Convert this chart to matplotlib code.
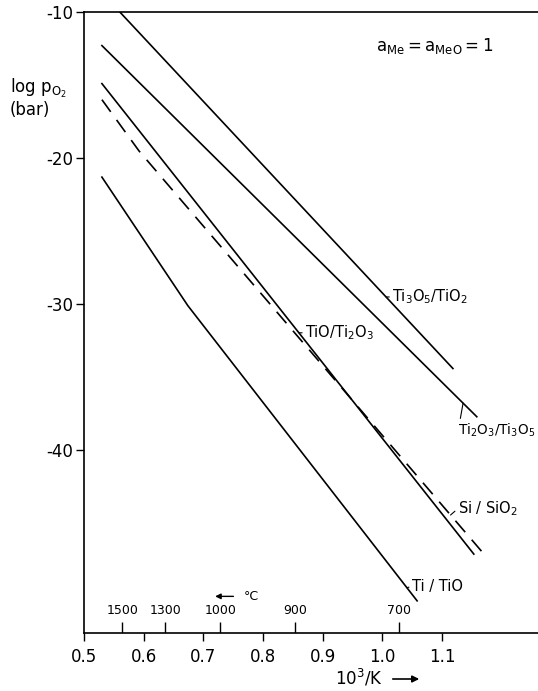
import numpy as np
import matplotlib
matplotlib.use('Agg')
import matplotlib.pyplot as plt

plt.rcParams['font.family'] = 'DejaVu Sans'
plt.rcParams['mathtext.fontset'] = 'dejavusans'
plt.rcParams['axes.unicode_minus'] = False

# data: x = 10^3/K, y = log pO2 (bar)
ti3o5_x = [0.560, 1.118]
ti3o5_y = [-10.0, -34.4]
ti2o3_x = [0.530, 1.158]
ti2o3_y = [-12.3, -37.7]
tio_x = [0.530, 1.153]
tio_y = [-14.9, -47.1]
si_x = [0.530, 0.592, 1.170]
si_y = [-16.0, -19.5, -47.1]
ti_x = [0.530, 0.674, 1.058]
ti_y = [-21.3, -30.1, -50.3]

x_ticks = [0.5, 0.6, 0.7, 0.8, 0.9, 1.0, 1.1]
x_labels = ['0.5', '0.6', '0.7', '0.8', '0.9', '1.0', '1.1']
y_ticks = [-10, -20, -30, -40]
celsius_labels = ['1500', '1300', '1000', '900', '700']
celsius_pos = [0.564, 0.636, 0.728, 0.853, 1.028]

fig = plt.figure(figsize=(5.38, 6.91), dpi=100)
ax = fig.add_axes([84/538, 58/691, 454/538, 621/691])

lw = 1.2
ax.plot(ti3o5_x, ti3o5_y, color='black', lw=lw)
ax.plot(ti2o3_x, ti2o3_y, color='black', lw=lw)
ax.plot(tio_x, tio_y, color='black', lw=lw)
ax.plot(si_x, si_y, color='black', lw=lw, dashes=(9, 6))
ax.plot(ti_x, ti_y, color='black', lw=lw)

ax.set_xlim(0.5, 1.2605)
ax.set_ylim(-52.5, -10)
ax.spines['right'].set_visible(False)
for s in ['left', 'top', 'bottom']:
    ax.spines[s].set_linewidth(1.2)

ax.set_xticks(x_ticks, x_labels)
ax.set_yticks(y_ticks, [str(v) for v in y_ticks])
ax.tick_params(axis='both', direction='out', length=6, width=1, labelsize=12)
ax.tick_params(axis='x', pad=5)
ax.tick_params(axis='y', pad=2)

# celsius scale: inward ticks with labels above the axis
ax.vlines(celsius_pos, 0, 0.017, transform=ax.get_xaxis_transform(), color='black', lw=1)
for p, lab in zip(celsius_pos, celsius_labels):
    ax.text(p, 0.025, lab, transform=ax.get_xaxis_transform(),
            ha='center', va='bottom', fontsize=9)
ax.annotate('', xy=(0.715, 0.059), xytext=(0.755, 0.059),
            xycoords=ax.get_xaxis_transform(),
            arrowprops=dict(arrowstyle='-|>', color='black', lw=1, mutation_scale=8))
ax.text(0.768, 0.059, '°C', transform=ax.get_xaxis_transform(),
        ha='left', va='center', fontsize=9)


def line_y(xs, ys, x):
    return np.interp(x, xs, ys)


def label(xs, ys, x_line, x_text, text, y_text=None, size=10.5):
    yl = line_y(xs, ys, x_line)
    yt = yl if y_text is None else y_text
    ax.annotate(text, xy=(x_line, yl), xytext=(x_text, yt),
                ha='left', va='center', fontsize=size,
                arrowprops=dict(arrowstyle='-', color='black', lw=0.8,
                                shrinkA=0, shrinkB=0, relpos=(0, 0.5)))


label(ti3o5_x, ti3o5_y, 1.006, 1.016, r'Ti$_3$O$_5$/TiO$_2$')
label(tio_x, tio_y, 0.860, 0.870, r'TiO/Ti$_2$O$_3$')
label(ti2o3_x, ti2o3_y, 1.135, 1.127, r'Ti$_2$O$_3$/Ti$_3$O$_5$', y_text=-38.6, size=9.8)
label(si_x, si_y, 1.114, 1.126, r'Si / SiO$_2$', y_text=-44.0)
label(ti_x, ti_y, 1.041, 1.049, 'Ti / TiO', y_text=-49.3)

ax.text(1.088, -12.3, r'$\mathrm{a}_{\mathrm{Me}} = \mathrm{a}_{\mathrm{MeO}} = 1$',
        ha='center', va='center', fontsize=12)

fig.text(10/538, 1 - 88/691, r'log p$_{\mathrm{O_2}}$', ha='left', va='center', fontsize=12)
fig.text(10/538, 1 - 110/691, '(bar)', ha='left', va='center', fontsize=12)

fig.text(383/538, 1 - 678/691, r'10$^3$/K', ha='right', va='center', fontsize=12)
fig.patches.append(matplotlib.patches.FancyArrowPatch(
    (390/538, 1 - 679/691), (422/538, 1 - 679/691), transform=fig.transFigure,
    arrowstyle='-|>', mutation_scale=10, color='black', lw=1.2))

fig.savefig('out.png', dpi=100)
